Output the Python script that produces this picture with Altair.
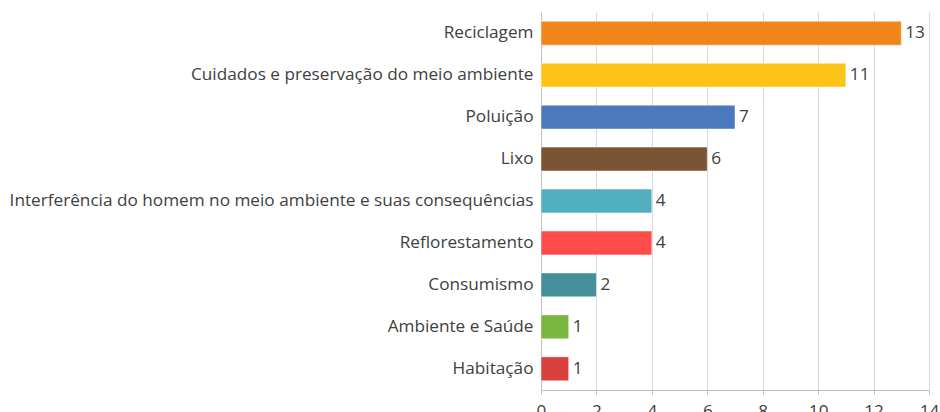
import altair as alt
import pandas as pd

categories = ["Reciclagem", "Cuidados e preservação do meio ambiente", "Poluição", "Lixo",
              "Interferência do homem no meio ambiente e suas consequências", "Reflorestamento",
              "Consumismo", "Ambiente e Saúde", "Habitação"]
values = [13, 11, 7, 6, 4, 4, 2, 1, 1]
colors = ["#F0861A", "#FDC317", "#4C79BE", "#7B5434", "#52AFBF", "#FF4C4A", "#458F9A", "#7AB642", "#D9403D"]

df = pd.DataFrame({"cat": categories, "val": values, "color": colors})

FONT = "Open Sans"
TXT = "#404040"

y = alt.Y("cat:N", sort=categories, title=None,
          scale=alt.Scale(paddingInner=0.43, paddingOuter=0.22),
          axis=alt.Axis(ticks=False, labelFont=FONT, labelFontSize=17.2, labelColor=TXT,
                        labelPadding=8, labelLimit=700, domainColor="#BFBFBF", grid=False))
x = alt.X("val:Q", title=None, scale=alt.Scale(domain=[0, 14], nice=False),
          axis=alt.Axis(values=list(range(0, 15, 2)), grid=True, gridColor="#D9D9D9",
                        domainColor="#BFBFBF", tickColor="#BFBFBF", tickSize=4, labelFlush=False,
                        labelFont=FONT, labelFontSize=17.2, labelColor=TXT, labelPadding=8))

bars = alt.Chart(df).mark_bar(stroke="white", strokeWidth=0.5).encode(
    x=x, y=y, color=alt.Color("color:N", scale=None))
labels = alt.Chart(df).mark_text(align="left", dx=4, font=FONT, fontSize=17.2, color=TXT).encode(
    x="val:Q", y=alt.Y("cat:N", sort=categories), text="val:Q")

chart = (bars + labels).properties(
    width=388, height=378,
    autosize=alt.AutoSizeParams(type="none"),
    padding={"left": 541, "top": 12, "right": 11, "bottom": 22},
).configure_view(stroke=None)

chart.save("out.html", embed_options={"renderer": "svg", "actions": False})
